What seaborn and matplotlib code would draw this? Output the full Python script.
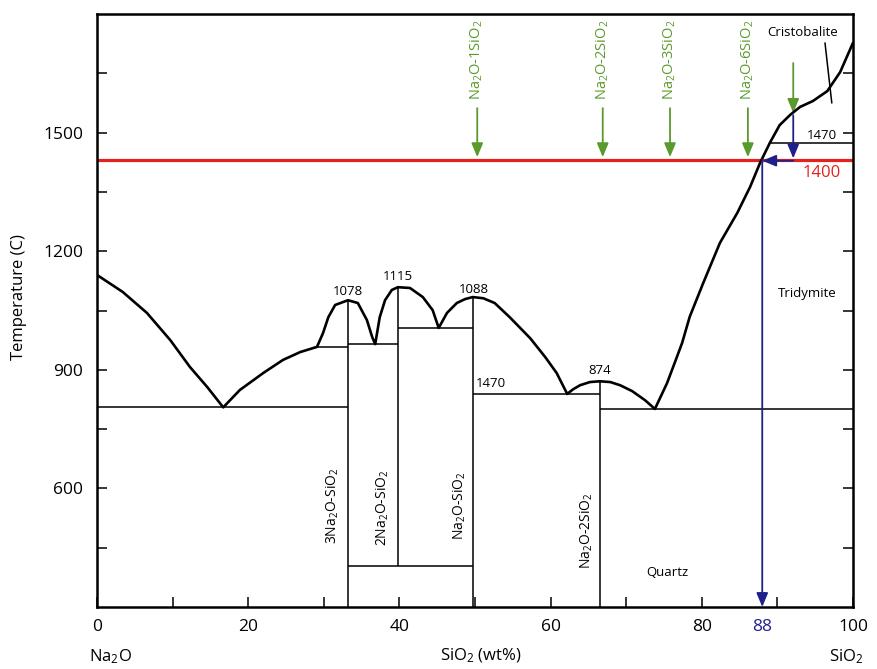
import matplotlib
matplotlib.use('Agg')
import pandas as pd
from matplotlib import pyplot as plt
import seaborn as sns

# liquidus curve (SiO2 wt%, temperature)
liq_x = [0, 3.4, 6.6, 9.7, 12.3, 14.6, 16.7, 18.9, 22.0, 24.6, 26.9, 29.1,
         29.9, 30.6, 31.5, 33.2, 34.5, 35.7, 36.4, 36.8,
         37.4, 38.1, 39.0, 39.8, 41.4, 43.1, 44.4, 45.2,
         46.3, 47.6, 48.7, 49.7, 51.1, 52.6, 54.6, 57.3, 59.3, 60.8, 62.2,
         63.0, 63.9, 65.2, 66.5, 67.9, 69.2, 70.8, 72.5, 73.8,
         75.4, 76.7, 77.4, 78.4, 80.2, 82.4, 84.7, 86.4, 87.7, 89.0,
         90.3, 91.7, 93.0, 94.7, 96.6, 98.3, 100]
liq_t = [1140, 1097, 1044, 975, 907, 856, 805, 849, 892, 925, 945, 958,
         993, 1033, 1064, 1076, 1069, 1026, 983, 965,
         1033, 1076, 1102, 1109, 1107, 1084, 1051, 1006,
         1044, 1069, 1079, 1084, 1081, 1069, 1033, 980, 932, 892, 839,
         851, 861, 869, 871, 869, 861, 846, 823, 801,
         866, 932, 968, 1034, 1120, 1221, 1297, 1363, 1423, 1474,
         1519, 1545, 1565, 1580, 1605, 1653, 1727]

# compound lines (vertical)
comp_x = [33.2, 39.8, 49.7, 66.5]
comp_top = [1076, 1109, 1084, 871]
comp_bot = [300, 403, 300, 300]

# isotherms (horizontal)
iso_t = [805, 958, 965, 1006, 403, 839, 801, 1474]
iso_x0 = [0, 29.1, 33.2, 39.8, 33.2, 49.7, 66.5, 89.0]
iso_x1 = [33.2, 33.2, 39.8, 49.7, 49.7, 66.5, 100, 100]

# compound labels
comp_labels = ['3Na$_2$O-SiO$_2$', '2Na$_2$O-SiO$_2$', 'Na$_2$O-SiO$_2$', 'Na$_2$O-2SiO$_2$']
comp_lab_x = [31.2, 37.8, 48.0, 64.8]
comp_lab_t = [555, 550, 555, 492]

# peak / isotherm numbers
peak_labels = ['1078', '1115', '1088', '1470', '874']
peak_x = [33.2, 39.8, 49.9, 52.1, 66.5]
peak_t = [1099, 1137, 1104, 866, 899]

# green arrows (mixtures at 1400)
mix_labels = ['Na$_2$O-1SiO$_2$', 'Na$_2$O-2SiO$_2$', 'Na$_2$O-3SiO$_2$', 'Na$_2$O-6SiO$_2$']
mix_x = [50.3, 66.9, 75.8, 86.1]
mix_t0, mix_t1 = 1562, 1438

red_t = 1431
start_x = 92.1
result_x = 88.0
crist_x = [96.3, 97.2]
crist_t = [1727, 1575]

green = '#5a9a2c'
red = '#e3211d'
blue = '#20208a'

sns.set_style('white')
plt.rcParams['font.family'] = ['Open Sans', 'DejaVu Sans']
plt.rcParams['mathtext.default'] = 'regular'
plt.rcParams['text.color'] = 'black'
plt.rcParams['axes.labelcolor'] = 'black'
plt.rcParams['xtick.color'] = 'black'
plt.rcParams['ytick.color'] = 'black'

fig = plt.figure(figsize=(8.77, 6.69), dpi=100)
ax = fig.add_axes([0.1106, 0.0927, 0.862, 0.8863])

df = pd.DataFrame({'SiO2': liq_x, 'T': liq_t})
sns.lineplot(data=df, x='SiO2', y='T', sort=False, estimator=None,
             color='black', lw=1.9, ax=ax, zorder=4)

ax.vlines(comp_x, comp_bot, comp_top, color='black', lw=1.1, zorder=3)
ax.hlines(iso_t, iso_x0, iso_x1, color='black', lw=1.1, zorder=3)
ax.plot(crist_x, crist_t, color='black', lw=1.1)

# 1400 isotherm
ax.axhline(red_t, color=red, lw=2.3, zorder=2)
ax.text(95.9, 1398, '1400', color=red, fontsize=12, ha='center', va='center')

green_arrow = dict(arrowstyle='-|>,head_length=0.6,head_width=0.25', color=green,
                   lw=1.3, mutation_scale=14, shrinkA=0, shrinkB=0)
for lab, x in zip(mix_labels, mix_x):
    ax.annotate('', xy=(x, mix_t1), xytext=(x, mix_t0), arrowprops=green_arrow)
    ax.text(x, 1582, lab, color=green, fontsize=10.5, rotation=90,
            ha='center', va='bottom')
ax.annotate('', xy=(start_x, 1550), xytext=(start_x, 1676), arrowprops=green_arrow)

blue_arrow = dict(arrowstyle='-|>,head_length=0.6,head_width=0.25', color=blue,
                  lw=1.3, mutation_scale=14, shrinkA=0, shrinkB=0)
ax.annotate('', xy=(start_x, red_t + 4), xytext=(start_x, 1544), arrowprops=blue_arrow, zorder=5)
ax.annotate('', xy=(result_x, red_t - 2), xytext=(start_x, red_t - 2), arrowprops=blue_arrow, zorder=5)
ax.annotate('', xy=(result_x, 300), xytext=(result_x, red_t), arrowprops=blue_arrow, zorder=5)

for lab, x, t in zip(comp_labels, comp_lab_x, comp_lab_t):
    ax.text(x, t, lab, fontsize=10, rotation=90, ha='center', va='center')
for lab, x, t in zip(peak_labels, peak_x, peak_t):
    ax.text(x, t, lab, fontsize=9.5, ha='center', va='center')

ax.text(93.4, 1754, 'Cristobalite', fontsize=9.5, ha='center', va='center')
ax.text(94.0, 1092, 'Tridymite', fontsize=9.5, ha='center', va='center')
ax.text(75.4, 386, 'Quartz', fontsize=9.5, ha='center', va='center')
ax.text(95.9, 1494, '1470', fontsize=9.5, ha='center', va='center')

ax.set_xlim(0, 100)
ax.set_ylim(300, 1800)
ax.set_xticks([0, 20, 40, 60, 80, 88, 100])
ax.set_xticklabels(['0', '20', '40', '60', '80', '88', '100'])
ax.set_xticks([10, 30, 50, 70, 90], minor=True)
ax.set_yticks([600, 900, 1200, 1500])
ax.set_yticks([450, 750, 1050, 1350, 1650], minor=True)
ax.tick_params(axis='x', which='both', direction='in', length=7, width=1.1,
               bottom=True, top=False, labelsize=12.5, pad=9)
ax.tick_params(axis='y', which='both', direction='in', length=7, width=1.1,
               left=True, right=True, labelsize=12.5, pad=10)
ax.get_xticklabels()[5].set_color(blue)
ax.xaxis.get_major_ticks()[5].tick1line.set_visible(False)

for s in ax.spines.values():
    s.set_linewidth(1.8)
    s.set_color('black')

ax.set_xlabel('SiO$_2$ (wt%)', fontsize=12)
ax.xaxis.set_label_coords(0.507, -0.066)
ax.set_ylabel('Temperature (C)', fontsize=12)
ax.yaxis.set_label_coords(-0.092, 0.523)
fig.text(110 / 877, 1 - 657 / 669, 'Na$_2$O', fontsize=12, ha='center', va='center')
fig.text(846 / 877, 1 - 657 / 669, 'SiO$_2$', fontsize=12, ha='center', va='center')

fig.savefig('out.png', dpi=100)
